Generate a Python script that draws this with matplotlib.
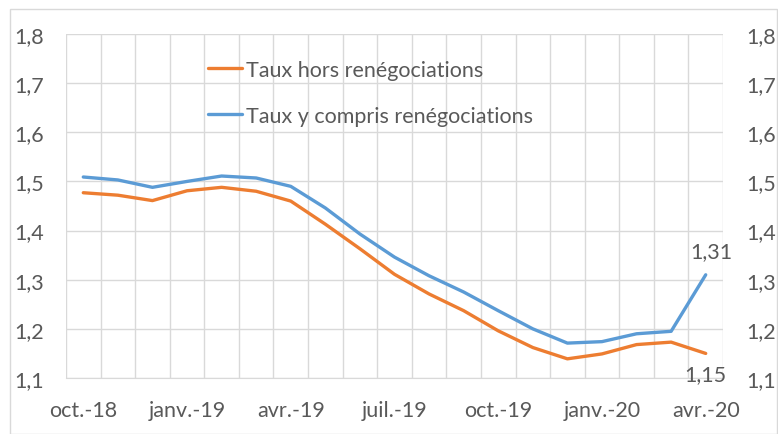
import matplotlib
matplotlib.use("Agg")
import matplotlib.pyplot as plt
from matplotlib.patches import Rectangle

# Monthly data, oct. 2018 -> avr. 2020
months = ["oct.-18", "nov.-18", "déc.-18", "janv.-19", "févr.-19", "mars-19", "avr.-19",
          "mai-19", "juin-19", "juil.-19", "août-19", "sept.-19", "oct.-19", "nov.-19",
          "déc.-19", "janv.-20", "févr.-20", "mars-20", "avr.-20"]
taux_hors = [1.477, 1.472, 1.461, 1.481, 1.488, 1.480, 1.460, 1.413, 1.363, 1.311,
             1.271, 1.237, 1.196, 1.162, 1.139, 1.149, 1.168, 1.173, 1.15]
taux_yc = [1.509, 1.503, 1.488, 1.500, 1.511, 1.507, 1.490, 1.446, 1.393, 1.346,
           1.308, 1.275, 1.237, 1.200, 1.171, 1.174, 1.190, 1.195, 1.31]
label_hors = "Taux hors renégociations"
label_yc = "Taux y compris renégociations"
yticks = [1.1, 1.2, 1.3, 1.4, 1.5, 1.6, 1.7, 1.8]

orange = "#ED7D31"
blue = "#5B9BD5"
txt = "#595959"
grid = "#D9D9D9"
fs = 15.5

plt.rcParams['font.family'] = ['Lato', 'DejaVu Sans']

W, H = 778, 435
fig = plt.figure(figsize=(W / 100, H / 100), dpi=100)
fig.patches.append(Rectangle((10 / W, 0), (W - 11) / W, (H - 10) / H, transform=fig.transFigure,
                             fill=False, edgecolor=grid, linewidth=1))

ax = fig.add_axes([66 / W, (H - 379) / H, 657 / W, 344 / H])
x = list(range(len(months)))
ax.plot(x, taux_hors, color=orange, lw=2.4, label=label_hors, solid_capstyle='round')
ax.plot(x, taux_yc, color=blue, lw=2.4, label=label_yc, solid_capstyle='round')

ax.set_xlim(-0.5, len(months) - 0.5)
ax.set_ylim(1.1, 1.8)
ax.set_yticks(yticks)
ax.set_yticklabels([f"{v:.1f}".replace(".", ",") for v in yticks])
ax.set_xticks(x[::3])
ax.set_xticklabels(months[::3])
ax.set_xticks([i - 0.5 for i in range(len(months) + 1)], minor=True)

ax.grid(axis='y', color=grid, lw=1)
ax.grid(axis='x', which='minor', color=grid, lw=1)
ax.set_axisbelow(True)
for s in ax.spines.values():
    s.set_visible(False)
ax.spines['bottom'].set_visible(True)
ax.spines['bottom'].set_color(grid)
ax.tick_params(which='both', length=0, colors=txt, labelsize=fs)
ax.tick_params(axis='y', pad=16)
ax.tick_params(axis='x', pad=16)

ax2 = ax.twinx()
ax2.set_ylim(ax.get_ylim())
ax2.set_yticks(yticks)
ax2.set_yticklabels([f"{v:.1f}".replace(".", ",") for v in yticks])
for s in ax2.spines.values():
    s.set_visible(False)
ax2.tick_params(length=0, colors=txt, labelsize=fs, pad=17)

# end-of-series labels
ax.annotate(f"{taux_yc[-1]:.2f}".replace(".", ","), (x[-1], taux_yc[-1]), xytext=(4, 10),
            textcoords='offset points', ha='center', va='bottom', color=txt, fontsize=fs)
ax.annotate(f"{taux_hors[-1]:.2f}".replace(".", ","), (x[-1], taux_hors[-1]), xytext=(0, -8),
            textcoords='offset points', ha='center', va='top', color=txt, fontsize=fs)

ax.legend(loc='upper left', bbox_to_anchor=(0.216, 0.925), frameon=False, fontsize=fs,
          labelcolor=txt, borderpad=0, borderaxespad=0, handlelength=1.6,
          handletextpad=0.15, labelspacing=1.2)

fig.savefig("out.png", dpi=100)
